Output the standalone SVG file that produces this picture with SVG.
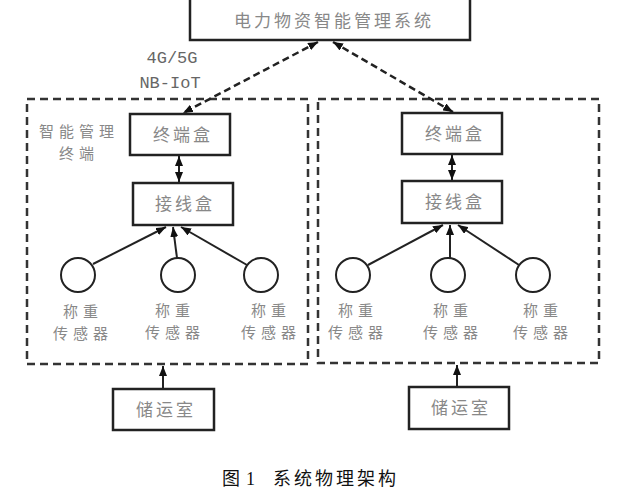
<svg xmlns="http://www.w3.org/2000/svg" width="637" height="501" viewBox="0 0 637 501">
<style>
.box{fill:#fff;stroke:#222;stroke-width:2.5}
.grp{fill:none;stroke:#333;stroke-width:2.5;stroke-dasharray:8 5}
.lbl{font-family:"Noto Sans CJK SC",sans-serif;font-size:17px;fill:#888;text-anchor:middle;letter-spacing:3px}
.two{font-family:"Noto Sans CJK SC",sans-serif;font-size:15px;fill:#888;text-anchor:middle;letter-spacing:5px}
.mono{font-family:"Liberation Mono",monospace;font-size:17px;fill:#666;text-anchor:middle}
.cap{font-family:"Liberation Serif","Noto Sans CJK SC",serif;font-size:18px;fill:#111}
.sensor{fill:#fff;stroke:#222;stroke-width:2}
.ln{stroke:#222;stroke-width:2;fill:none}
.dl{stroke:#222;stroke-width:2.5;fill:none;stroke-dasharray:7 4}
</style>
<defs>
<marker id="ah" viewBox="0 0 10 8" refX="10" refY="4" markerWidth="10" markerHeight="8" markerUnits="userSpaceOnUse" orient="auto-start-reverse">
<path d="M0,0 L10,4 L0,8 z" fill="#111"/>
</marker>
</defs>
<rect width="637" height="501" fill="#fff"/>

<g id="groups">
<rect id="group-left" class="grp" x="27" y="99" width="281" height="265"/>
<rect id="group-right" class="grp" x="318" y="99" width="281" height="264"/>
</g>

<g id="connectors">
<line class="dl" x1="318" y1="42" x2="183" y2="113" marker-start="url(#ah)" marker-end="url(#ah)"/>
<line class="dl" x1="333" y1="42" x2="453" y2="112" marker-start="url(#ah)" marker-end="url(#ah)"/>
<line class="ln" x1="179" y1="156" x2="179" y2="182" marker-start="url(#ah)" marker-end="url(#ah)"/>
<line class="ln" x1="452" y1="155" x2="452" y2="180" marker-start="url(#ah)" marker-end="url(#ah)"/>
<line class="ln" x1="93" y1="264" x2="166" y2="227" marker-end="url(#ah)"/>
<line class="ln" x1="177" y1="258" x2="173" y2="227" marker-end="url(#ah)"/>
<line class="ln" x1="247" y1="265" x2="181" y2="227" marker-end="url(#ah)"/>
<line class="ln" x1="368" y1="265" x2="443" y2="225" marker-end="url(#ah)"/>
<line class="ln" x1="450" y1="258" x2="450" y2="225" marker-end="url(#ah)"/>
<line class="ln" x1="519" y1="265" x2="458" y2="225" marker-end="url(#ah)"/>
<line class="ln" x1="163" y1="389" x2="163" y2="366" marker-end="url(#ah)"/>
<line class="ln" x1="457" y1="387" x2="457" y2="365" marker-end="url(#ah)"/>
</g>

<g id="system">
<rect class="box" x="190" y="-2" width="280" height="42"/>
<text class="lbl" x="334" y="27">电力物资智能管理系统</text>
</g>

<g id="net-label">
<text class="mono" x="172" y="63"><tspan x="172">4G/5G</tspan><tspan x="170" dy="25">NB-IoT</tspan></text>
</g>

<g id="terminal-label">
<text class="two" y="137"><tspan x="79">智能管理</tspan><tspan x="79" dy="22">终端</tspan></text>
</g>

<g id="term-box-left">
<rect class="box" x="130" y="114" width="100" height="41"/>
<text class="lbl" x="183" y="141">终端盒</text>
</g>
<g id="junction-left">
<rect class="box" x="133" y="183" width="100" height="42"/>
<text class="lbl" x="185" y="210">接线盒</text>
</g>
<g id="term-box-right">
<rect class="box" x="402" y="113" width="100" height="41"/>
<text class="lbl" x="455" y="140">终端盒</text>
</g>
<g id="junction-right">
<rect class="box" x="402" y="181" width="100" height="42"/>
<text class="lbl" x="455" y="208">接线盒</text>
</g>

<g id="sensor-l1"><circle class="sensor" cx="78" cy="275" r="17"/><text class="two" y="317"><tspan x="83">称重</tspan><tspan x="83" dy="22">传感器</tspan></text></g>
<g id="sensor-l2"><circle class="sensor" cx="178" cy="275" r="17"/><text class="two" y="316"><tspan x="175">称重</tspan><tspan x="175" dy="22">传感器</tspan></text></g>
<g id="sensor-l3"><circle class="sensor" cx="261" cy="275" r="17"/><text class="two" y="316"><tspan x="271">称重</tspan><tspan x="271" dy="22">传感器</tspan></text></g>
<g id="sensor-r1"><circle class="sensor" cx="353" cy="275" r="17"/><text class="two" y="316"><tspan x="358">称重</tspan><tspan x="358" dy="22">传感器</tspan></text></g>
<g id="sensor-r2"><circle class="sensor" cx="448" cy="275" r="17"/><text class="two" y="316"><tspan x="453">称重</tspan><tspan x="453" dy="22">传感器</tspan></text></g>
<g id="sensor-r3"><circle class="sensor" cx="533" cy="275" r="17"/><text class="two" y="316"><tspan x="543">称重</tspan><tspan x="543" dy="22">传感器</tspan></text></g>

<g id="storage-left">
<rect class="box" x="113" y="389" width="101" height="41"/>
<text class="lbl" x="166" y="416">储运室</text>
</g>
<g id="storage-right">
<rect class="box" x="409" y="387" width="100" height="42"/>
<text class="lbl" x="461" y="414">储运室</text>
</g>

<g id="caption">
<text class="cap" y="485"><tspan x="222">图</tspan><tspan x="246">1</tspan><tspan x="273" style="letter-spacing:3px">系统物理架构</tspan></text>
</g>
</svg>
